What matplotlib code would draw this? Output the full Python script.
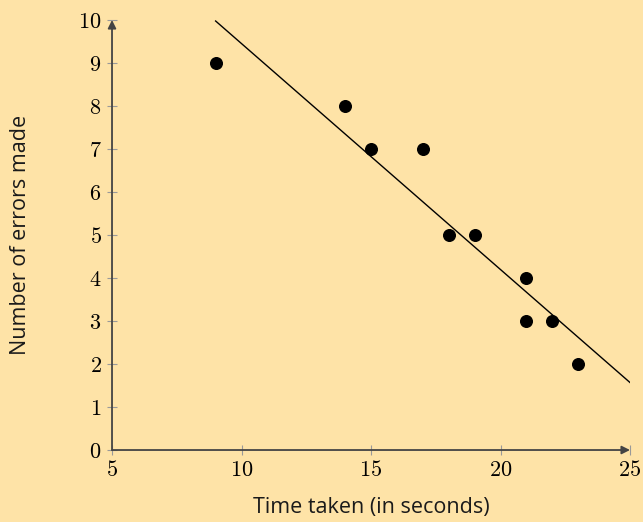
import numpy as np
import matplotlib.pyplot as plt

# data
time_taken = [9, 14, 15, 17, 18, 19, 21, 21, 22, 23]
errors_made = [9, 8, 7, 7, 5, 5, 4, 3, 3, 2]
x_ticks = [5, 10, 15, 20, 25]
y_ticks = list(range(0, 11))

BG = '#FEE3A7'
plt.rcParams['mathtext.fontset'] = 'cm'

fig = plt.figure(figsize=(6.43, 5.22), dpi=100, facecolor=BG)
ax = fig.add_axes([0.1742, 0.1379, 0.8056, 0.8238])
ax.set_facecolor(BG)

# trend line (least squares fit through the points)
slope, intercept = np.polyfit(time_taken, errors_made, 1)
xs = np.array([9, 25])
ax.plot(xs, slope * xs + intercept, color='black', lw=1.0, zorder=2)

ax.scatter(time_taken, errors_made, s=70, color='black', zorder=3)

ax.set_xlim(5, 25)
ax.set_ylim(0, 10)
ax.set_xticks(x_ticks)
ax.set_xticklabels([f'${v}$' for v in x_ticks])
ax.set_yticks(y_ticks)
ax.set_yticklabels([f'${v}$' for v in y_ticks])
ax.tick_params(direction='inout', length=7, width=0.8, color='#999999',
               labelsize=16, pad=4)

for s in ax.spines.values():
    s.set_visible(False)

# axis lines with arrow heads
arrow = dict(arrowstyle='-|>', color='#444444', lw=1.3,
             mutation_scale=12, shrinkA=0, shrinkB=0)
ax.annotate('', xy=(1, 0), xytext=(0, 0), xycoords='axes fraction',
            arrowprops=arrow, annotation_clip=False)
ax.annotate('', xy=(0, 1), xytext=(0, 0), xycoords='axes fraction',
            arrowprops=arrow, annotation_clip=False)

ax.set_xlabel('Time taken (in seconds)', fontsize=15.5, family='Open Sans',
              labelpad=12, color='#1a1a1a')
ax.set_ylabel('Number of errors made', fontsize=15.5, family='Open Sans',
              labelpad=34, color='#1a1a1a')

fig.savefig('out.png', dpi=100, facecolor=BG)
